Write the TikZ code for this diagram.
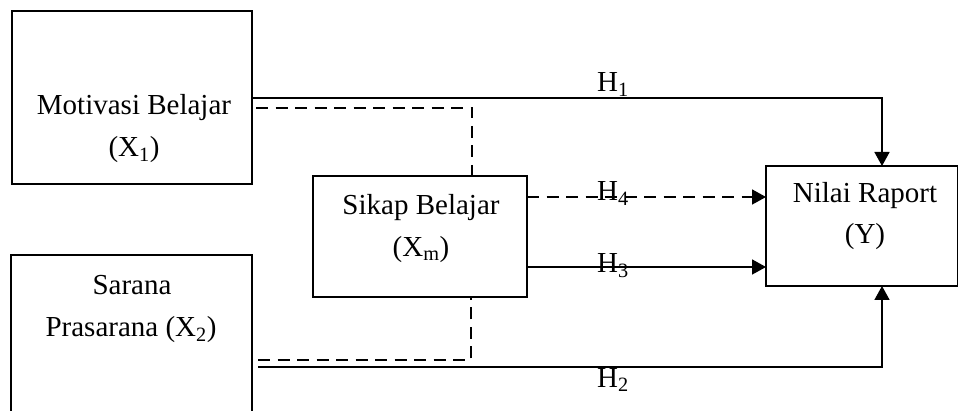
\documentclass[tikz,border=0pt]{standalone}
\usepackage{fontspec}
\setmainfont{Liberation Serif}
\usetikzlibrary{arrows.meta}
\begin{document}
\begin{tikzpicture}[x=1pt,y=-1pt,
  varbox/.style={draw,line width=2pt,inner sep=0pt,outer sep=0pt},
  txt/.style={font=\fontsize{29}{42}\selectfont,align=center,inner sep=0pt},
  lbl/.style={font=\fontsize{29}{42}\selectfont,inner sep=0pt,anchor=base west},
  link/.style={line width=1.6pt},
  dashlink/.style={line width=1.6pt,dash pattern=on 12pt off 7.5pt},
  tip/.style={-{Triangle[length=14pt,width=15pt]}}]
\useasboundingbox (0,0) rectangle (958,411);
\clip (0,0) rectangle (958,411);

% variable boxes
\node[varbox,minimum width=240pt,minimum height=173pt] (mot) at (132,97.5) {};
\node[varbox,minimum width=241pt,minimum height=180pt] (sar) at (131.5,345) {};
\node[varbox,minimum width=214pt,minimum height=121pt] (sik) at (420,236.5) {};
\node[varbox,minimum width=192pt,minimum height=120pt] (nil) at (862,226) {};

% box texts
\node[txt,anchor=base] (motA) at (134,115) {Motivasi Belajar};
\node[txt,anchor=base] (motB) at (134,157) {(X\textsubscript{1})};
\node[txt,anchor=base] (sarA) at (132,295) {Sarana};
\node[txt,anchor=base] (sarB) at (131,337) {Prasarana (X\textsubscript{2})};
\node[txt,anchor=base] (sikA) at (421,215) {Sikap Belajar};
\node[txt,anchor=base] (sikB) at (421,257) {(X\textsubscript{m})};
\node[txt,anchor=base] (nilA) at (865,203) {Nilai Raport};
\node[txt,anchor=base] (nilB) at (865,244) {(Y)};

% corner and start points of the connectors
\coordinate (h1c) at (882,98);
\coordinate (tdc) at (472,108);
\coordinate (tds) at (256,108);
\coordinate (bdc) at (471,360);
\coordinate (bds) at (258,360);
\coordinate (h2s) at (258,367);
\coordinate (h2c) at (882,367);

% direct effects
\draw[link,tip] (mot.east |- h1c) -- (h1c) -- (h1c |- nil.north);
\draw[link,tip] (h2s) -- (h2c) -- (h2c |- nil.south);
\draw[link,tip] (sik.east |- 0,267) -- (nil.west |- 0,267);
\draw[dashlink,tip] (sik.east |- 0,197) -- (nil.west |- 0,197);

% paths through the mediator
\draw[dashlink] (tds) -- (tdc) -- (tdc |- sik.north);
\draw[dashlink] (bds) -- (bdc) -- (bdc |- sik.south);

% hypothesis labels
\node[lbl] (H1) at (597,92) {H\textsubscript{1}};
\node[lbl] (H4) at (597,201) {H\textsubscript{4}};
\node[lbl] (H3) at (597,273) {H\textsubscript{3}};
\node[lbl] (H2) at (597,387) {H\textsubscript{2}};
\end{tikzpicture}
\end{document}
